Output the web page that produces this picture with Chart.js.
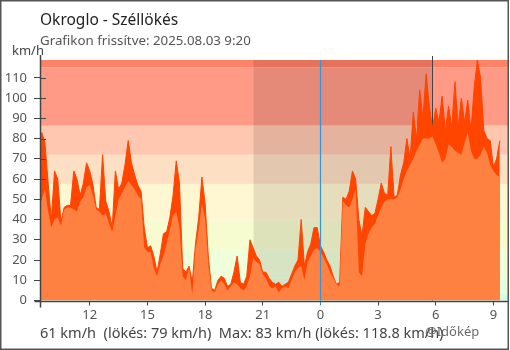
<!DOCTYPE html>
<html lang="hu">
<head>
<meta charset="utf-8">
<title>Okroglo - Széllökés</title>
<script src="https://cdn.jsdelivr.net/npm/chart.js@4.4.1/dist/chart.umd.min.js"></script>
<style>
  html, body { margin: 0; padding: 0; background: #fff; }
  #wrap { position: relative; width: 510px; height: 350px; overflow: hidden; }
</style>
</head>
<body>
<div id="wrap"><canvas id="wind-chart" width="510" height="350"></canvas></div>
<script>
// 10 perces mérések, 9:20-tól (előző nap) 9:20-ig, órában éjfélhez képest
const startHour = -14 - 40 / 60;
const stepHour = 10 / 60;

// átlagos szélsebesség (km/h)
const wind = [
  45, 50, 55, 44, 36, 40, 41, 37, 45, 46,
  46, 45, 44, 49, 51, 56, 57, 52, 45, 44,
  42, 43, 38, 34, 42, 50, 53, 56, 59, 57,
  55, 52, 50, 26, 24, 24, 16, 12, 18, 22,
  28, 35, 42, 44, 36, 12, 10, 16, 3, 25,
  35, 48, 40, 18, 5, 4, 8, 10, 8, 5,
  7, 9, 8, 6, 5, 7, 12, 21, 19, 18,
  13, 11, 7, 6, 7, 4, 6, 7, 6, 10,
  14, 16, 17, 10, 19, 22, 25, 26, 24, 21,
  18, 14, 11, 8, 7, 49, 47, 46, 50, 55,
  14, 12, 28, 33, 36, 38, 42, 46, 49, 50,
  50, 50, 51, 55, 60, 64, 67, 70, 74, 77,
  80, 80, 80, 81, 77, 73, 68, 70, 77, 76,
  74, 73, 72, 78, 83, 74, 70, 70, 72, 76,
  73, 67, 64, 62, 61
];

// széllökés (km/h)
const gust = [
  54, 83, 78, 58, 40, 64, 60, 39, 46, 47,
  47, 64, 60, 52, 58, 68, 64, 57, 46, 45,
  72, 49, 44, 36, 64, 55, 58, 67, 79, 68,
  62, 57, 54, 36, 26, 27, 22, 14, 23, 33,
  34, 41, 52, 69, 58, 16, 14, 17, 9, 28,
  41, 61, 48, 22, 6, 5, 10, 12, 11, 7,
  8, 14, 22, 9, 8, 12, 30, 26, 22, 20,
  14, 14, 11, 9, 8, 9, 7, 8, 9, 13,
  17, 20, 40, 17, 24, 28, 36, 36, 27, 24,
  20, 17, 12, 8, 9, 51, 50, 54, 64, 60,
  40, 32, 46, 44, 42, 43, 50, 58, 53, 52,
  76, 51, 52, 62, 68, 80, 70, 93, 80, 104,
  90, 112, 96, 85, 95, 88, 101, 84, 96, 86,
  108, 86, 100, 88, 99, 84, 105, 118.8, 110, 84,
  80, 79, 66, 70, 79
];

// tengelyfeliratok
const hourTicks = [-12, -9, -6, -3, 0, 3, 6, 9];
const hourLabels = ["12", "15", "18", "21", "0", "3", "6", "9"];
const speedTicks = [0, 10, 20, 30, 40, 50, 60, 70, 80, 90, 100, 110];

// szélerősség sávok (km/h) és színeik
const bandLimits = [0, 3.6, 10.8, 25.2, 39.6, 57.6, 72, 86.4, 115.2, 200];
const bandColors = [
  "#d2ffe4", "#e2ffe0", "#effedb", "#f6fcd0",
  "#fff7d2", "#fddfc3", "#ffc7b0", "#ff9a86", "#ff8166"
];

// napnyugta / napkelte
const nightStart = -3.48;
const nightEnd = 5.8;

// összesítő
const currentWind = 61;
const currentGust = 79;
const maxWind = 83;
const maxGust = 118.8;

const FONT = "'Noto Sans', 'Open Sans', sans-serif";

const toPoints = (arr) => arr.map((v, i) => ({ x: startHour + i * stepHour, y: v }));

const decor = {
  id: "decor",
  // háttérsávok + éjszaka
  beforeDatasetsDraw(chart) {
    const { ctx, chartArea: a, scales } = chart;
    const x = scales.x;
    const y = scales.y;
    ctx.save();
    ctx.beginPath();
    ctx.rect(a.left, a.top, a.right - a.left, a.bottom - a.top);
    ctx.clip();
    for (let k = 0; k < bandColors.length; k++) {
      const top = y.getPixelForValue(Math.min(bandLimits[k + 1], y.max));
      const bot = y.getPixelForValue(bandLimits[k]);
      ctx.fillStyle = bandColors[k];
      ctx.fillRect(a.left, top, a.right - a.left, bot - top);
    }
    const n0 = x.getPixelForValue(nightStart);
    const n1 = x.getPixelForValue(nightEnd);
    ctx.fillStyle = "rgba(0, 0, 0, 0.1)";
    ctx.fillRect(n0, a.top, n1 - n0, a.bottom - a.top);
    ctx.restore();

    // napkelte vonal
    const sx = Math.round(n1) + 0.5;
    ctx.save();
    ctx.strokeStyle = "#444";
    ctx.lineWidth = 1;
    ctx.beginPath();
    ctx.moveTo(sx, a.top - 4);
    ctx.lineTo(sx, a.bottom);
    ctx.stroke();
    ctx.restore();
  },
  // y tick-ek belső fele: a lökés fölé, a szél alá
  afterDatasetDraw(chart, args) {
    if (args.index !== 0) return;
    const { ctx, chartArea: a, scales } = chart;
    ctx.save();
    ctx.strokeStyle = "#444";
    ctx.lineWidth = 1;
    speedTicks.forEach((v) => {
      const py = Math.round(scales.y.getPixelForValue(v)) + 0.5;
      ctx.beginPath();
      ctx.moveTo(a.left, py);
      ctx.lineTo(a.left + 6, py);
      ctx.stroke();
    });
    ctx.restore();
  },
  afterDatasetsDraw(chart) {
    const { ctx, chartArea: a, scales } = chart;
    // éjfél
    const mx = Math.round(scales.x.getPixelForValue(0)) + 0.5;
    ctx.save();
    ctx.strokeStyle = "#2f97dd";
    ctx.lineWidth = 1.2;
    ctx.beginPath();
    ctx.moveTo(mx, a.top);
    ctx.lineTo(mx, a.bottom);
    ctx.stroke();

    // tengelyvonalak
    const ax = Math.round(a.left) + 0.5;
    const ay = Math.round(a.bottom) + 0.5;
    ctx.strokeStyle = "#444";
    ctx.lineWidth = 1.5;
    ctx.beginPath();
    ctx.moveTo(ax, 55);
    ctx.lineTo(ax, ay + 6);
    ctx.moveTo(ax - 6, ay);
    ctx.lineTo(a.right, ay);
    ctx.stroke();
    ctx.restore();
  },
  afterDraw(chart) {
    const { ctx } = chart;
    ctx.save();
    ctx.textBaseline = "alphabetic";
    ctx.textAlign = "left";

    ctx.fillStyle = "#222";
    ctx.font = "15.5px " + FONT;
    ctx.fillText("Okroglo - Széllökés", 40, 25);

    ctx.fillStyle = "#555";
    ctx.font = "13.3px " + FONT;
    ctx.fillText("Grafikon frissítve: 2025.08.03 9:20", 40, 45);

    ctx.fillStyle = "#444";
    ctx.font = "13px " + FONT;
    ctx.fillText("km/h", 12, 55);

    ctx.fillStyle = "#444";
    ctx.font = "14.5px " + FONT;
    ctx.fillText(
      `${currentWind} km/h  (lökés: ${currentGust} km/h)  Max: ${maxWind} km/h (lökés: ${maxGust} km/h)`,
      40, 338
    );

    ctx.fillStyle = "rgba(80, 80, 80, 0.85)";
    ctx.font = "13px " + FONT;
    ctx.fillText("@Időkép", 425, 336);

    // keret
    ctx.strokeStyle = "#555";
    ctx.lineWidth = 1.5;
    ctx.strokeRect(0.75, 0.75, 507.5, 348.5);
    ctx.restore();
  },
};

const chart = new Chart(document.getElementById("wind-chart"), {
  type: "line",
  data: {
    datasets: [
      {
        label: "Széllökés",
        data: toPoints(gust),
        fill: "origin",
        tension: 0,
        backgroundColor: "#ff4500",
        borderColor: "#ff4500",
        borderWidth: 1,
        pointRadius: 0,
        order: 2,
      },
      {
        label: "Szélsebesség",
        data: toPoints(wind),
        fill: "origin",
        tension: 0,
        backgroundColor: "#ff8141",
        borderColor: "#ff8141",
        borderWidth: 0,
        pointRadius: 0,
        order: 1,
      },
    ],
  },
  options: {
    responsive: false,
    animation: false,
    devicePixelRatio: 1,
    layout: { padding: { top: 60, right: 2, left: 0, bottom: 0 } },
    plugins: {
      legend: { display: false },
      tooltip: { enabled: false },
    },
    scales: {
      x: {
        type: "linear",
        min: -14.59,
        max: 9.76,
        afterFit: (s) => { s.height = 49.5; },
        afterBuildTicks: (s) => { s.ticks = hourTicks.map((v) => ({ value: v })); },
        ticks: {
          autoSkip: false,
          maxRotation: 0,
          padding: 2,
          color: "#555",
          font: { family: FONT, size: 13 },
          callback: (v) => hourLabels[hourTicks.indexOf(v)],
        },
        grid: {
          drawOnChartArea: false,
          tickLength: 5,
          color: (c) => (c.tick && c.tick.value === 0 ? "#2f97dd" : "#444"),
        },
        border: { display: false },
      },
      y: {
        min: 0,
        max: maxGust,
        afterFit: (s) => { s.width = 40; },
        afterBuildTicks: (s) => { s.ticks = speedTicks.map((v) => ({ value: v })); },
        ticks: {
          padding: 7,
          color: "#555",
          font: { family: FONT, size: 13 },
        },
        grid: {
          drawOnChartArea: false,
          tickLength: 6,
          color: "#444",
        },
        border: { display: false },
      },
    },
  },
  plugins: [decor],
});
</script>
</body>
</html>
